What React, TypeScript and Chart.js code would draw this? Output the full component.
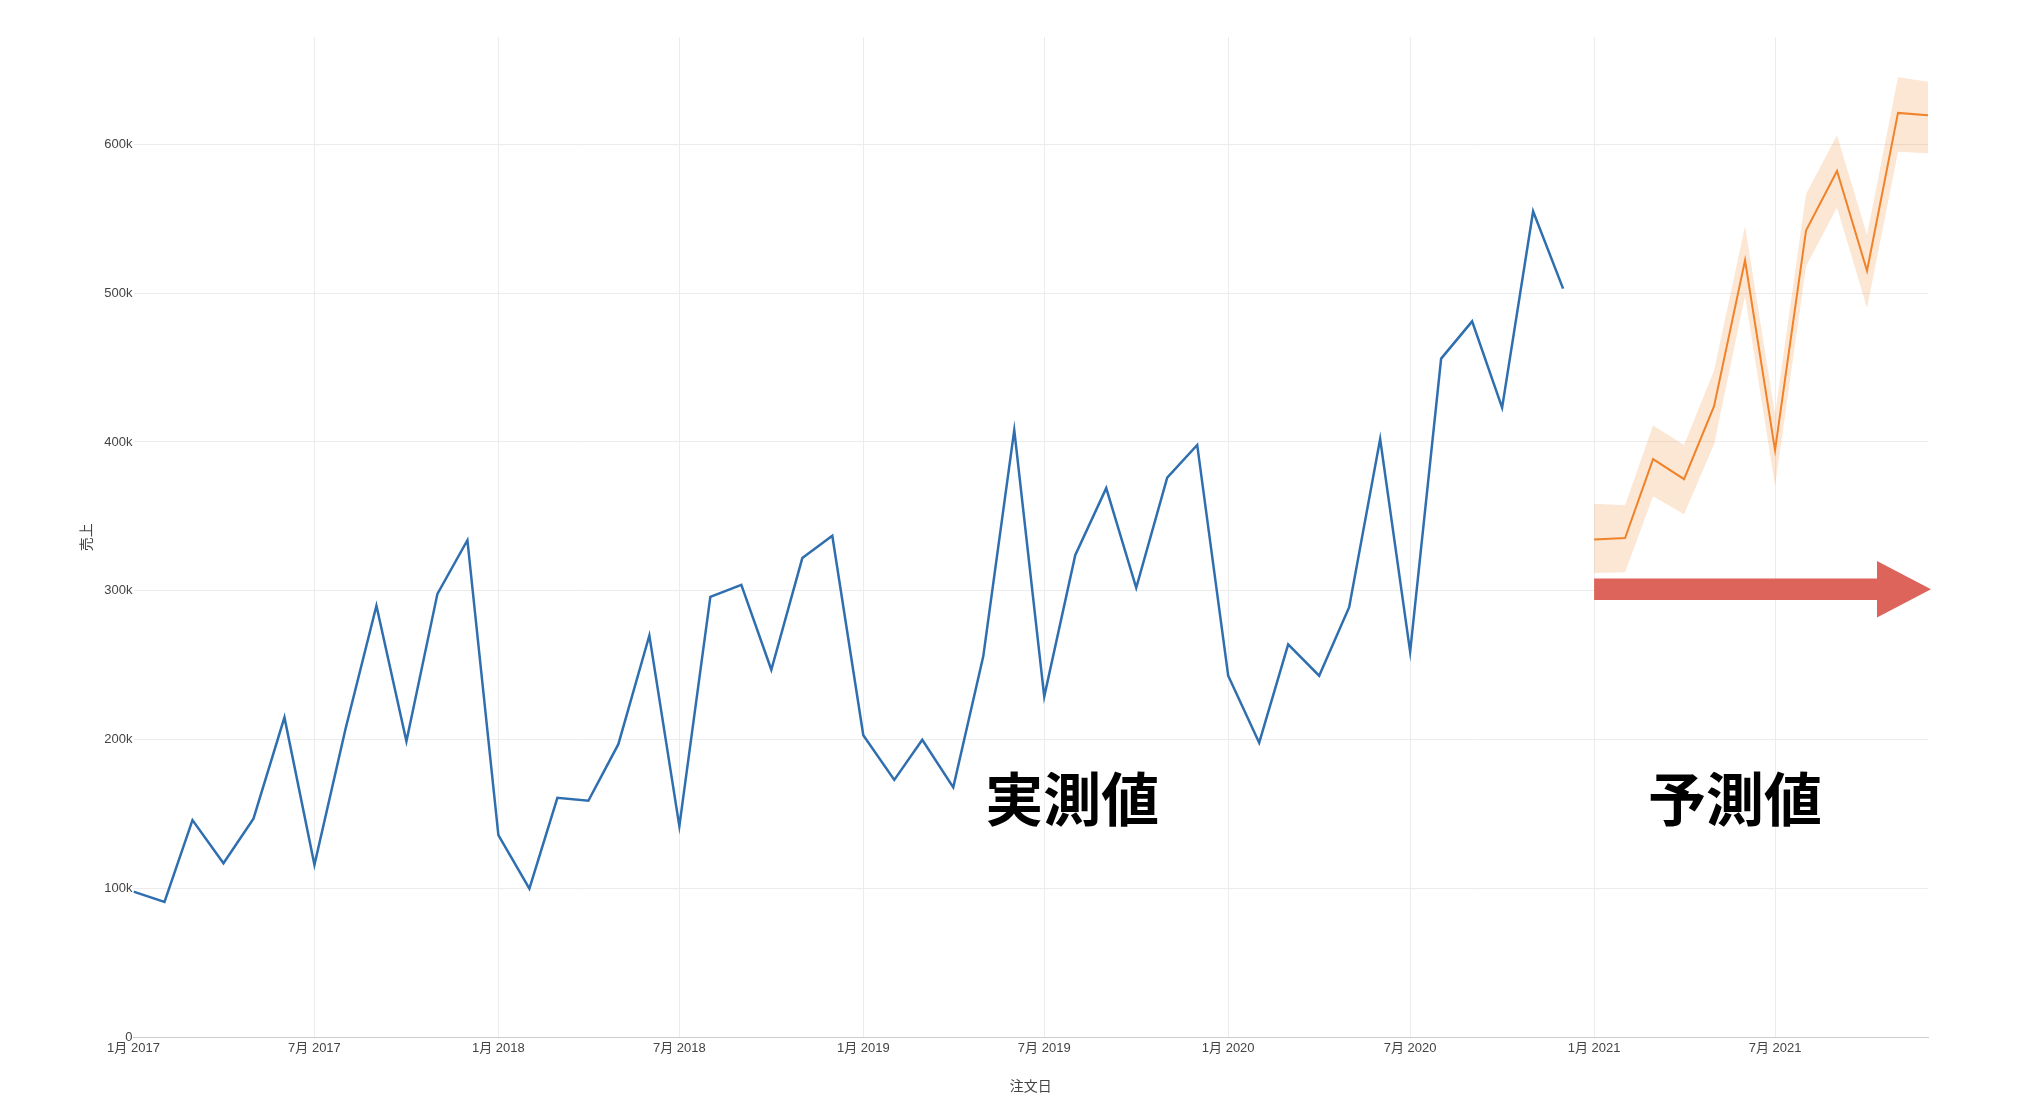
import React, { useEffect, useRef } from 'react';
import { Chart, registerables } from 'chart.js';

Chart.register(...registerables);

// ---- data ----
const actualMonths = [
  '2017-01', '2017-02', '2017-03', '2017-04', '2017-05', '2017-06',
  '2017-07', '2017-08', '2017-09', '2017-10', '2017-11', '2017-12',
  '2018-01', '2018-02', '2018-03', '2018-04', '2018-05', '2018-06',
  '2018-07', '2018-08', '2018-09', '2018-10', '2018-11', '2018-12',
  '2019-01', '2019-02', '2019-03', '2019-04', '2019-05', '2019-06',
  '2019-07', '2019-08', '2019-09', '2019-10', '2019-11', '2019-12',
  '2020-01', '2020-02', '2020-03', '2020-04', '2020-05', '2020-06',
  '2020-07', '2020-08', '2020-09', '2020-10', '2020-11', '2020-12',
];
const actualSales = [
  98000, 91000, 146000, 117000, 147000, 215000, 116000, 207000, 290000, 199000, 298000, 334000,
  136000, 100000, 161000, 159000, 197000, 270000, 142000, 296000, 304000, 247000, 322000, 337000,
  203000, 173000, 200000, 168000, 256000, 408000, 229000, 324000, 369000, 302000, 376000, 398000,
  243000, 198000, 264000, 243000, 289000, 402000, 259000, 456000, 481000, 423000, 555000, 503000,
];

const forecastMonths = [
  '2021-01', '2021-02', '2021-03', '2021-04', '2021-05', '2021-06',
  '2021-07', '2021-08', '2021-09', '2021-10', '2021-11', '2021-12',
];
const forecastSales = [334500, 335500, 388500, 375000, 424000, 522000, 394500, 542000, 582000, 515000, 621000, 619500];
const forecastUpper = [358500, 357500, 411000, 398000, 448000, 545000, 418500, 566500, 606000, 539000, 645000, 642000];
const forecastLower = [312000, 312500, 363500, 351500, 398500, 498000, 370500, 518000, 557500, 490000, 595000, 594000];

const xTickMonths = ['2017-01', '2017-07', '2018-01', '2018-07', '2019-01', '2019-07', '2020-01', '2020-07', '2021-01', '2021-07'];
const yTickValues = [0, 100000, 200000, 300000, 400000, 500000, 600000];

const xRange = ['2017-01-01', '2021-12-01'];
const yRange = [0, 672000];

const xTitle = '注文日';
const yTitle = '売上';

const labelActual = { text: '実測値', date: '2019-07-29', value: 160000 };
const labelForecast = { text: '予測値', date: '2021-05-22', value: 160000 };
const arrowSpec = { from: '2021-01-01', to: '2021-12-04', value: 301000 };

// ---- helpers ----
const toTime = (s: string) => {
  const p = s.split('-').map(Number);
  return Date.UTC(p[0], p[1] - 1, p[2] || 1);
};

const FONT = "'Liberation Sans', Arial, 'Noto Sans CJK JP', sans-serif";

const overlayPlugin = {
  id: 'overlay',
  afterDatasetsDraw(chart: any) {
    const { ctx, scales } = chart;
    const xs = scales.x;
    const ys = scales.y;
    ctx.save();
    // arrow
    const x0 = xs.getPixelForValue(toTime(arrowSpec.from));
    const x1 = xs.getPixelForValue(toTime(arrowSpec.to));
    const yc = ys.getPixelForValue(arrowSpec.value);
    const shaftHalf = 10.75;
    const headHalf = 28.25;
    const headLen = 54;
    ctx.fillStyle = '#dd645b';
    ctx.beginPath();
    ctx.moveTo(x0, yc - shaftHalf);
    ctx.lineTo(x1 - headLen, yc - shaftHalf);
    ctx.lineTo(x1 - headLen, yc - headHalf);
    ctx.lineTo(x1, yc);
    ctx.lineTo(x1 - headLen, yc + headHalf);
    ctx.lineTo(x1 - headLen, yc + shaftHalf);
    ctx.lineTo(x0, yc + shaftHalf);
    ctx.closePath();
    ctx.fill();
    // labels
    ctx.fillStyle = '#000';
    ctx.font = "bold 58px 'Noto Sans CJK JP', sans-serif";
    ctx.textAlign = 'center';
    ctx.textBaseline = 'middle';
    for (const l of [labelActual, labelForecast]) {
      ctx.fillText(l.text, xs.getPixelForValue(toTime(l.date)), ys.getPixelForValue(l.value));
    }
    ctx.restore();
  },
};

export default function App() {
  const ref = useRef<HTMLCanvasElement | null>(null);

  useEffect(() => {
    document.body.style.margin = '0';
    const canvas = ref.current;
    if (!canvas) return;
    const chart = new Chart(canvas, {
      type: 'line',
      data: {
        datasets: [
          {
            label: '予測',
            data: forecastMonths.map((m, i) => ({ x: toTime(m), y: forecastSales[i] })),
            borderColor: '#f0832a',
            borderWidth: 2,
            pointRadius: 0,
            fill: false,
            tension: 0,
            order: 0,
          },
          {
            label: '実測',
            data: actualMonths.map((m, i) => ({ x: toTime(m), y: actualSales[i] })),
            borderColor: '#2f6fb0',
            borderWidth: 2.5,
            pointRadius: 0,
            fill: false,
            tension: 0,
            order: 1,
          },
          {
            label: '上限',
            data: forecastMonths.map((m, i) => ({ x: toTime(m), y: forecastUpper[i] })),
            borderWidth: 0,
            borderColor: 'rgba(0,0,0,0)',
            pointRadius: 0,
            fill: false,
            tension: 0,
            order: 3,
          },
          {
            label: '下限',
            data: forecastMonths.map((m, i) => ({ x: toTime(m), y: forecastLower[i] })),
            borderWidth: 0,
            borderColor: 'rgba(0,0,0,0)',
            backgroundColor: 'rgba(240,131,42,0.2)',
            pointRadius: 0,
            fill: '-1',
            tension: 0,
            order: 2,
          },
        ],
      },
      options: {
        responsive: false,
        animation: false,
        devicePixelRatio: 1,
        layout: { padding: { left: 79, right: 104, top: 37, bottom: 0 } },
        plugins: {
          legend: { display: false },
          tooltip: { enabled: false },
        },
        scales: {
          x: {
            type: 'linear',
            min: toTime(xRange[0]),
            max: toTime(xRange[1]),
            afterBuildTicks: (scale: any) => {
              scale.ticks = xTickMonths.map((m) => ({ value: toTime(m) }));
            },
            afterFit: (scale: any) => {
              scale.height = 58.5;
            },
            ticks: {
              autoSkip: false,
              maxRotation: 0,
              minRotation: 0,
              padding: 3,
              color: '#444',
              font: { family: FONT, size: 13 },
              callback: (v: any) => {
                const d = new Date(Number(v));
                return `${d.getUTCMonth() + 1}月 ${d.getUTCFullYear()}`;
              },
            },
            grid: {
              color: (c: any) => (c.index === 0 ? 'rgba(0,0,0,0)' : '#ececec'),
              lineWidth: 1,
              drawTicks: false,
            },
            border: { display: true, color: '#cccccc', width: 1 },
            title: {
              display: true,
              text: xTitle,
              color: '#444',
              font: { family: FONT, size: 14 },
              padding: { top: 0, bottom: 0 },
            },
          },
          y: {
            type: 'linear',
            min: yRange[0],
            max: yRange[1],
            afterBuildTicks: (scale: any) => {
              scale.ticks = yTickValues.map((v) => ({ value: v }));
            },
            afterFit: (scale: any) => {
              scale.width = 54.5;
            },
            ticks: {
              padding: 1,
              color: '#444',
              font: { family: FONT, size: 13 },
              callback: (v: any) => (Number(v) === 0 ? '0' : `${Number(v) / 1000}k`),
            },
            grid: {
              color: '#ececec',
              lineWidth: 1,
              drawTicks: false,
            },
            border: { display: false },
            title: {
              display: true,
              text: yTitle,
              color: '#444',
              font: { family: FONT, size: 14 },
              padding: { top: 0, bottom: 0 },
            },
          },
        },
      } as any,
      plugins: [overlayPlugin],
    });
    return () => chart.destroy();
  }, []);

  return (
    <div style={{ position: 'fixed', left: 0, top: 0, width: 2032, height: 1096, background: '#fff' }}>
      <canvas ref={ref} width={2032} height={1096} style={{ width: 2032, height: 1096, display: 'block' }} />
    </div>
  );
}
